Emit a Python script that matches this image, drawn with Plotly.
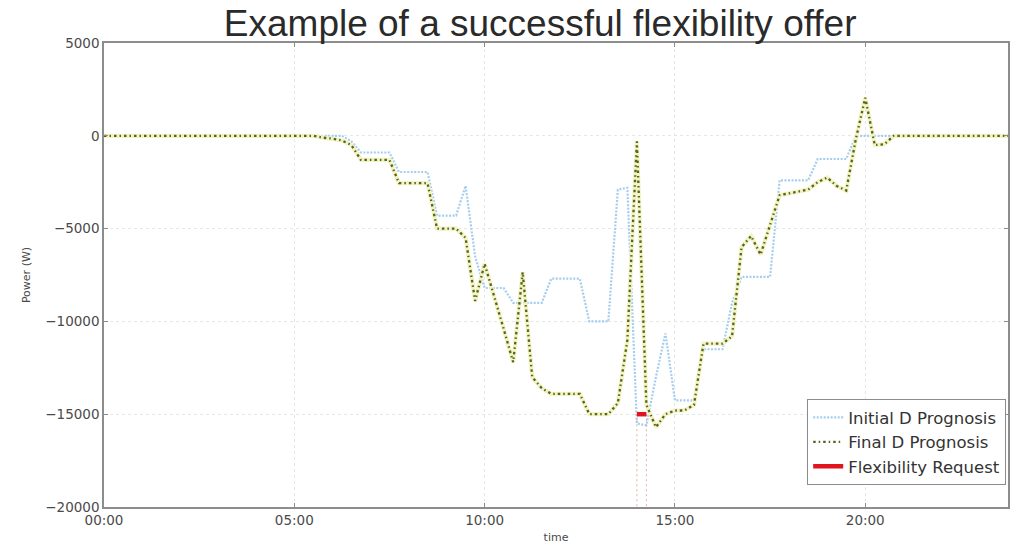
import plotly.graph_objects as go

# Quarter-hour time axis, in hours after midnight (00:00 .. 23:45)
hours = [i * 0.25 for i in range(96)]

# Initial prognosis of demand D (W)
initial_d = [
    0, 0, 0, 0, 0, 0, 0, 0, 0, 0, 0, 0, 0, 0, 0, 0, 0, 0, 0, 0, 0, 0, 0, 0,  # 00:00-05:45
    0, 0, -300, -900, -900, -900, -900, -1950, -1950, -1950, -1950,          # 06:00-08:30
    -4300, -4300, -4300, -2700, -6500, -8200, -8200, -8200,                  # 08:45-10:30
    -9000, -9000, -9000, -9000, -7700, -7700, -7700, -7700,                  # 10:45-12:30
    -10000, -10000, -10000, -2900, -2800, -15500, -15600, -13000, -10650,    # 12:45-14:45
    -14250, -14250, -14250, -11500, -11500, -11500, -9000,                   # 15:00-16:30
    -7600, -7600, -7600, -7600, -2400, -2400, -2400, -2400,                  # 16:45-18:30
    -1250, -1250, -1250, -1250, 0, 0, 0, 0, 0,                               # 18:45-20:45
    0, 0, 0, 0, 0, 0, 0, 0, 0, 0, 0, 0,                                      # 21:00-23:45
]

# Final prognosis of demand D after the flexibility offer (W)
final_d = [
    0, 0, 0, 0, 0, 0, 0, 0, 0, 0, 0, 0, 0, 0, 0, 0, 0, 0, 0, 0, 0, 0, 0, -100,  # 00:00-05:45
    -150, -250, -500, -1300, -1300, -1300, -1300, -2550, -2550, -2550, -2550,   # 06:00-08:30
    -5000, -5000, -5000, -5500, -8900, -6900, -8600, -10400,                    # 08:45-10:30
    -12200, -7350, -13000, -13600, -13900, -13900, -13900, -13900,              # 10:45-12:30
    -15000, -15000, -15000, -14400, -11000, -300, -14500, -15700, -15000,       # 12:45-14:45
    -14800, -14800, -14500, -11200, -11200, -11200, -10800,                     # 15:00-16:30
    -6000, -5400, -6400, -4800, -3200, -3100, -3000, -2900,                     # 16:45-18:30
    -2500, -2250, -2700, -2950, -200, 2050, -500, -450, 0,                      # 18:45-20:45
    0, 0, 0, 0, 0, 0, 0, 0, 0, 0, 0, 0,                                         # 21:00-23:45
]

# Requested flexibility window and power level
flex_hours = [14.0, 14.25]
flex_power = [-15000, -15000]
y_floor = -20000

x_tick_vals = [0, 5, 10, 15, 20]
x_tick_text = ["00:00", "05:00", "10:00", "15:00", "20:00"]
y_tick_vals = [5000, 0, -5000, -10000, -15000, -20000]
y_tick_text = ["5000", "0", "\u22125000", "\u221210000", "\u221215000", "\u221220000"]

fig = go.Figure()

# Initial prognosis: light blue dotted line
fig.add_trace(go.Scatter(
    x=hours, y=initial_d, mode="lines", name="Initial D Prognosis",
    line=dict(color="#a4cdee", width=2.2, dash="2px,1.5px"),
))

# Final prognosis: pale yellow halo under a dark olive dash-dot line
fig.add_trace(go.Scatter(
    x=hours, y=final_d, mode="lines", name="Final D Prognosis",
    legendgroup="final", showlegend=False, hoverinfo="skip",
    line=dict(color="#f2f4c4", width=4.2),
))
fig.add_trace(go.Scatter(
    x=hours, y=final_d, mode="lines", name="Final D Prognosis",
    legendgroup="final",
    line=dict(color="#59631f", width=2.3, dash="2.5px,3px,1.5px,3px"),
))

# Pink dotted guides marking the request window
for hx in flex_hours:
    fig.add_trace(go.Scatter(
        x=[hx, hx], y=[flex_power[0], y_floor], mode="lines", showlegend=False,
        hoverinfo="skip", line=dict(color="#f0a8a8", width=1, dash="2px,3px"),
    ))

# Flexibility request
fig.add_trace(go.Scatter(
    x=flex_hours, y=flex_power, mode="lines", name="Flexibility Request",
    line=dict(color="#e0141c", width=4.5),
))

axis_common = dict(
    showline=True, linecolor="#8c8c8c", linewidth=1.5, mirror="ticks",
    ticks="inside", ticklen=4, tickcolor="#8c8c8c",
    showgrid=True, gridcolor="#e6e6e6", griddash="dot", gridwidth=1,
    zeroline=False, automargin=False,
    tickfont=dict(family="DejaVu Sans", size=13.5, color="#4a4a4a"),
)

fig.update_xaxes(
    range=[0, 23.75], tickvals=x_tick_vals, ticktext=x_tick_text,
    title=dict(text="time", font=dict(family="DejaVu Sans", size=11, color="#4a4a4a"),
               standoff=6),
    **axis_common,
)
fig.update_yaxes(
    range=[-20000, 5000], tickvals=y_tick_vals, ticktext=y_tick_text,
    title=dict(text="Power (W)", font=dict(family="DejaVu Sans", size=11, color="#4a4a4a"),
               standoff=12),
    **axis_common,
)

fig.update_layout(
    width=1025, height=544,
    margin=dict(l=104, r=17, t=43, b=37, autoexpand=False),
    paper_bgcolor="white", plot_bgcolor="white",
    title=dict(
        text="Example of a successful flexibility offer",
        font=dict(family="Liberation Sans, Arial", size=37, color="#2a2a2a"),
        x=0.527, xanchor="center", y=0.958, yanchor="middle",
    ),
    legend=dict(
        x=0.998, xanchor="right", y=0.047, yanchor="bottom",
        bgcolor="white", bordercolor="#8c8c8c", borderwidth=1,
        font=dict(family="DejaVu Sans", size=16.5, color="#333333"),
        itemwidth=30, tracegroupgap=0,
    ),
    showlegend=True,
)

fig.write_html("out.html")
